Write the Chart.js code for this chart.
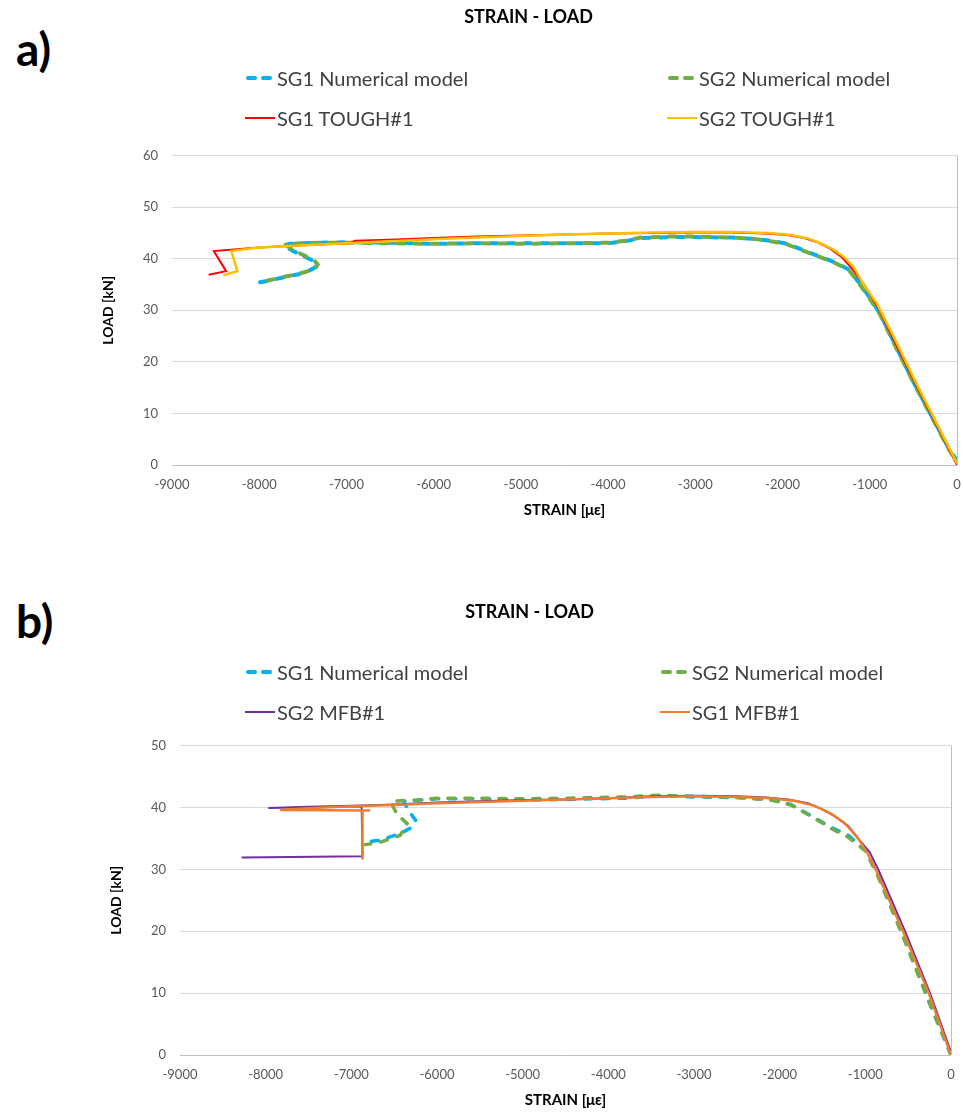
<!DOCTYPE html>
<html>
<head>
<meta charset="utf-8"/>
<title>Strain - Load</title>
<script src="https://cdn.jsdelivr.net/npm/chart.js@4.4.0/dist/chart.umd.min.js"></script>
<style>
    body { margin: 0; background: #fff; font-family: Lato, sans-serif; }
    #page { position: relative; width: 963px; height: 1119px; overflow: hidden; }
    .box { position: absolute; left: 0; width: 963px; }
    .tag { position: absolute; left: 16px; font: bold 46px Lato, sans-serif; color: #000; line-height: 1; }
    .leg { position: absolute; font-size: 20px; color: #404040; white-space: nowrap; line-height: 24px; }
    .leg .ico { display: inline-block; width: 30px; height: 24px; vertical-align: top; position: relative; margin-right: 2px; }
    .leg .ico b { position: absolute; top: 10px; border-radius: 2px; }
</style>
</head>
<body>
<div id="page">
    <div class="tag" style="top:26px;">a)</div>
    <div class="tag" style="top:598px;">b)</div>
    <div class="box" style="top:0; height:523px;"><canvas id="chartA"></canvas></div>
    <div class="box" style="top:595px; height:518px;"><canvas id="chartB"></canvas></div>
    <div id="legA"></div>
    <div id="legB"></div>
</div>
<script>
    // ---- a) TOUGH#1 ----
    const sg1NumA_x = [0,-100,-300,-500,-700,-880,-1030,-1130,-1240,-1400,-1600,-1800,-1950,-2100,-2300,-2570,-3000,-3300,-3630,-3800,-4000,-4500,-5000,-5500,-6000,-6500,-7000,-7300,-7650,-7720,-7610,-7480,-7380,-7340,-7360,-7450,-7550,-7720,-7850,-8030];
    const sg1NumA_y = [0.8,3.4,9.8,16.1,23.0,29.3,33.2,35.5,37.9,39.3,40.6,41.9,42.9,43.4,43.8,44.1,44.2,44.2,44.0,43.4,43.0,43.0,43.0,43.0,42.9,43.1,43.2,43.1,42.9,42.6,41.5,40.4,39.6,38.8,38.3,37.5,37.0,36.4,35.9,35.3];
    const sg2NumA_x = [0,-100,-300,-500,-700,-880,-1030,-1130,-1240,-1400,-1600,-1800,-1950,-2100,-2300,-2570,-3000,-3300,-3630,-3800,-4000,-4500,-5000,-5500,-6000,-6500,-7000,-7300,-7650,-7700,-7600,-7470,-7370,-7330,-7350,-7440,-7540,-7710,-7840,-8010];
    const sg2NumA_y = [0.6,3.2,9.6,16.0,22.8,29.1,33.0,35.4,37.8,39.2,40.5,41.8,42.8,43.3,43.8,44.1,44.3,44.3,44.1,43.5,43.1,43.0,42.9,43.0,42.9,43.0,43.1,43.1,42.9,42.7,41.6,40.5,39.7,38.9,38.3,37.6,37.1,36.5,36.0,35.4];
    const sg1ToughA_x = [0,-200,-460,-700,-900,-1050,-1200,-1320,-1450,-1600,-1750,-1950,-2200,-2600,-3000,-3500,-4000,-4500,-5000,-5500,-6000,-6500,-6900,-6960,-7500,-8000,-8520,-8380,-8580];
    const sg1ToughA_y = [0,6.7,15.2,23.4,30.4,34.6,38.0,40.3,41.9,43.2,44.0,44.6,44.9,45.1,45.1,45.0,44.9,44.7,44.5,44.3,44.0,43.7,43.5,43.0,42.6,42.2,41.5,37.6,36.9];
    const sg2ToughA_x = [0,-200,-460,-700,-920,-1070,-1190,-1300,-1420,-1560,-1700,-1900,-2150,-2600,-3000,-3500,-4000,-4500,-5000,-5500,-6000,-6500,-7000,-7500,-8000,-8320,-8250,-8410];
    const sg2ToughA_y = [0.3,7.0,15.6,24.0,31.4,35.0,38.5,40.4,41.8,43.0,43.9,44.6,45.0,45.2,45.2,45.1,44.9,44.7,44.4,44.1,43.8,43.4,43.0,42.6,42.2,41.5,37.6,36.8];

    // ---- b) MFB#1 ----
    const sg1NumB_x = [0,-250,-550,-850,-1000,-1200,-1400,-1550,-1700,-1870,-2100,-2500,-3000,-3400,-3800,-4200,-4500,-5000,-5500,-6000,-6390,-6330,-6250,-6290,-6430,-6660,-6856];
    const sg1NumB_y = [0,8.5,19.0,29.0,33.2,35.5,36.8,38.0,39.2,40.5,41.3,41.6,41.7,41.9,41.5,41.4,41.3,41.2,41.4,41.4,41.0,39.5,37.9,36.8,35.8,34.7,34.4];
    const sg2NumB_x = [0,-250,-550,-850,-1000,-1200,-1400,-1550,-1700,-1870,-2100,-2500,-3000,-3400,-3800,-4200,-4500,-5000,-5500,-6000,-6230,-6430,-6540,-6470,-6350,-6430,-6660,-6840];
    const sg2NumB_y = [0,8.3,18.8,28.8,33.0,35.2,36.6,37.9,39.1,40.4,41.2,41.6,41.8,42.0,41.7,41.6,41.5,41.4,41.5,41.5,41.2,41.1,40.9,39.0,37.4,35.5,34.4,34.0];
    const sg2MfbB_x = [0,-245,-537,-849,-950,-1085,-1200,-1360,-1500,-1670,-1900,-2150,-2500,-3000,-3500,-4000,-4500,-5000,-5500,-6000,-6500,-6880,-7500,-7970,-6880,-6870,-8280];
    const sg2MfbB_y = [0.5,10,20,30,32.8,35.0,37.0,38.6,39.7,40.7,41.3,41.6,41.8,41.9,41.8,41.5,41.3,41.2,41.0,40.8,40.5,40.3,40.1,39.9,40.2,32.1,31.9];
    const sg1MfbB_x = [0,-260,-560,-880,-990,-1100,-1250,-1400,-1600,-1800,-2100,-2500,-3000,-3500,-4000,-4500,-5000,-5500,-6000,-6500,-7000,-7450,-7830,-6780,-6870,-6870];
    const sg1MfbB_y = [0,10,20,30,33.0,35.3,37.6,39.0,40.3,41.0,41.5,41.7,41.8,41.7,41.5,41.3,41.1,40.9,40.7,40.4,40.2,39.9,39.6,39.5,39.5,31.6];

    const BLUE = '#00B0F0', GREEN = '#70AD47', RED = '#FF0000', YELLOW = '#FFC000', PURPLE = '#7030A0', ORANGE = '#ED7D31';
    const FONT = 'Lato';

    function pts(xs, ys) {
        return xs.map((x, i) => ({ x: x, y: ys[i] }));
    }

    function dashed(label, xs, ys, color, width, offset, order) {
        return { label: label, data: pts(xs, ys), borderColor: color, backgroundColor: color,
                 borderWidth: width, borderDash: [7, 10], borderDashOffset: offset, borderCapStyle: 'round',
                 showLine: true, pointRadius: 0, tension: 0, order: order };
    }

    function solid(label, xs, ys, color, width, order) {
        return { label: label, data: pts(xs, ys), borderColor: color, backgroundColor: color,
                 borderWidth: width, showLine: true, pointRadius: 0, tension: 0, order: order };
    }

    function makeOptions(yMax, padLeft, padRight, titleBottom) {
        return {
            responsive: true,
            maintainAspectRatio: false,
            animation: false,
            layout: { padding: { left: padLeft, right: padRight, top: 0, bottom: 0 } },
            plugins: {
                legend: { display: false },
                tooltip: { enabled: false },
                title: {
                    display: true, text: 'STRAIN - LOAD', color: '#000',
                    font: { family: FONT, size: 18, weight: 'bold' },
                    padding: { top: 6, bottom: titleBottom }
                }
            },
            scales: {
                x: {
                    type: 'linear', min: -9000, max: 0,
                    ticks: { stepSize: 1000, color: '#595959', font: { family: FONT, size: 13 }, padding: 12,
                             callback: (v) => String(v) },
                    grid: { drawTicks: false, color: (c) => (c.tick && c.tick.value === 0) ? '#bfbfbf' : 'rgba(0,0,0,0)' },
                    border: { display: false },
                    title: { display: true, text: 'STRAIN [με]', color: '#000', font: { family: FONT, size: 15, weight: 'bold' }, padding: { top: 9 } },
                    afterFit: (s) => { s.height = 58; s.paddingRight = 0; s.paddingLeft = 0; }
                },
                y: {
                    min: 0, max: yMax,
                    ticks: { stepSize: 10, color: '#595959', font: { family: FONT, size: 13 }, padding: 14 },
                    grid: { drawTicks: false, color: (c) => (c.tick && c.tick.value === 0) ? '#bfbfbf' : '#d9d9d9' },
                    border: { display: false },
                    title: { display: true, text: 'LOAD [kN]', color: '#000', font: { family: FONT, size: 14, weight: 'bold' }, padding: { top: 0, bottom: 4 } },
                    afterFit: (s) => { s.width = 72; }
                }
            }
        };
    }

    const chartA = new Chart(document.getElementById('chartA'), {
        type: 'scatter',
        data: { datasets: [
            dashed('SG1 Numerical model', sg1NumA_x, sg1NumA_y, BLUE, 4, 0, 3),
            dashed('SG2 Numerical model', sg2NumA_x, sg2NumA_y, GREEN, 4, 8.5, 2),
            solid('SG1 TOUGH#1', sg1ToughA_x, sg1ToughA_y, RED, 2, 1),
            solid('SG2 TOUGH#1', sg2ToughA_x, sg2ToughA_y, YELLOW, 2.5, 0)
        ] },
        options: makeOptions(60, 100, 6, 128)
    });

    const chartB = new Chart(document.getElementById('chartB'), {
        type: 'scatter',
        data: { datasets: [
            dashed('SG1 Numerical model', sg1NumB_x, sg1NumB_y, BLUE, 3.5, 0, 3),
            dashed('SG2 Numerical model', sg2NumB_x, sg2NumB_y, GREEN, 3.5, 0, 2),
            solid('SG2 MFB#1', sg2MfbB_x, sg2MfbB_y, PURPLE, 2, 1),
            solid('SG1 MFB#1', sg1MfbB_x, sg1MfbB_y, ORANGE, 2.5, 0)
        ] },
        options: makeOptions(50, 108, 12, 123)
    });

    // legend in two columns, built from the chart datasets
    function buildLegend(holderId, chart, top, cols) {
        const holder = document.getElementById(holderId);
        chart.data.datasets.forEach((ds, i) => {
            const item = document.createElement('div');
            item.className = 'leg';
            item.style.left = cols[i % 2] + 'px';
            item.style.top = (top + Math.floor(i / 2) * 40) + 'px';
            const ico = document.createElement('span');
            ico.className = 'ico';
            if (ds.borderDash) {
                ico.innerHTML = '<b style="left:1px;width:11px;height:4px;background:' + ds.borderColor + '"></b>' +
                                '<b style="left:16px;width:11px;height:4px;background:' + ds.borderColor + '"></b>';
            } else {
                ico.innerHTML = '<b style="left:0;width:30px;top:11px;height:2px;border-radius:0;background:' + ds.borderColor + '"></b>';
            }
            item.appendChild(ico);
            item.appendChild(document.createTextNode(ds.label));
            holder.appendChild(item);
        });
    }
    buildLegend('legA', chartA, 66, [245, 667]);
    buildLegend('legB', chartB, 660, [245, 660]);
</script>
</body>
</html>
